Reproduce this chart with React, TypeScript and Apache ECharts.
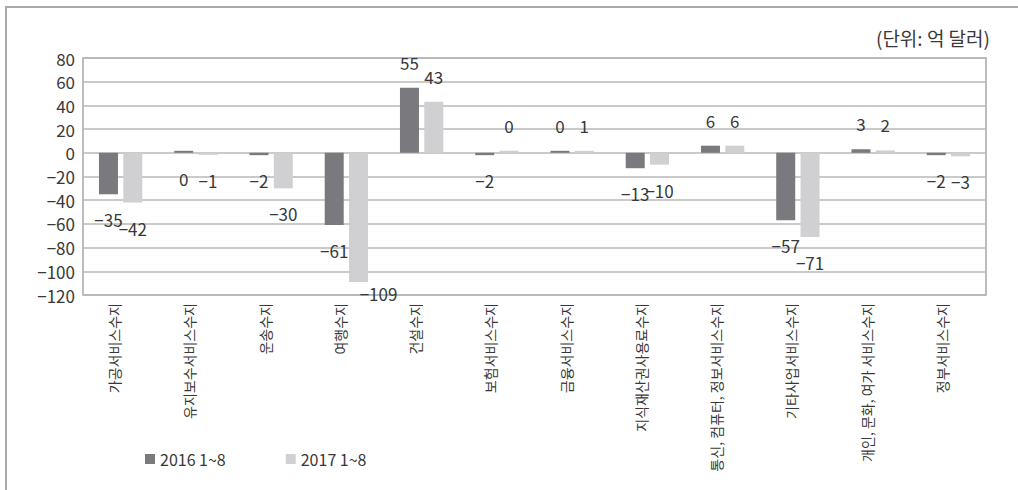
import React, { useEffect, useRef } from "react";
import * as echarts from "echarts";

// Service balance by category, Jan–Aug (unit: 100 million USD)
const categories = [
  "가공서비스수지",
  "유지보수서비스수지",
  "운송수지",
  "여행수지",
  "건설수지",
  "보험서비스수지",
  "금융서비스수지",
  "지식재산권사용료수지",
  "통신, 컴퓨터, 정보서비스수지",
  "기타사업서비스수지",
  "개인, 문화, 여가 서비스수지",
  "정부서비스수지",
];

const seriesNames = ["2016 1~8", "2017 1~8"];
const values2016 = [-35, 0, -2, -61, 55, -2, 0, -13, 6, -57, 3, -2];
const values2017 = [-42, -1, -30, -109, 43, 0, 1, -10, 6, -71, 2, -3];

// a rounded-to-zero value that was slightly negative: its label sits below the axis
const belowZero2016 = ["유지보수서비스수지"];

const yTicks = [80, 60, 40, 20, 0, -20, -40, -60, -80, -100, -120];
const unitText = "(단위: 억 달러)";

const FONT = "'Noto Sans CJK KR', 'Noto Sans', sans-serif";
const TEXT = "#383838";
const COLORS = ["#7a7a7e", "#d0d0d2"];

const minus = (v: number) => String(v).replace("-", "−");

export default function App() {
  const ref = useRef<HTMLDivElement>(null);

  useEffect(() => {
    if (!ref.current) return;
    const chart = echarts.init(ref.current, null, { renderer: "svg" });

    const minVal = yTicks[yTicks.length - 1];

    const makeSeries = (name: string, data: number[], color: string, below: string[]) => ({
      name,
      type: "bar",
      barWidth: 19,
      barGap: "28%",
      barMinHeight: 2,
      itemStyle: { color },
      label: {
        show: true,
        position: "outside",
        distance: 17,
        fontFamily: FONT,
        fontSize: 17,
        color: TEXT,
        formatter: (p: any) => minus(p.value),
      },
      data: data.map((v, i) => {
        if (v === 0 && below.includes(categories[i])) {
          return { value: v, label: { position: "bottom" } };
        }
        // bars reaching near the axis floor keep their label close beside the bar end
        if (v - minVal < 15) {
          return { value: v, label: { distance: 3, offset: [20, 0] } };
        }
        return v;
      }),
    });

    chart.setOption({
      animation: false,
      textStyle: { fontFamily: FONT },
      graphic: [
        {
          type: "rect",
          silent: true,
          shape: { x: 6, y: 7, width: 1100, height: 600 },
          style: { fill: "none", stroke: "#a9a9a9", lineWidth: 2 },
        },
        {
          type: "text",
          right: 28,
          top: 28,
          style: {
            text: unitText,
            fontFamily: FONT,
            fontSize: 19,
            fill: TEXT,
          },
        },
      ],
      legend: {
        left: 140,
        top: 446,
        itemWidth: 10,
        itemHeight: 10,
        itemGap: 60,
        icon: "rect",
        textStyle: { fontFamily: FONT, fontSize: 16, color: TEXT },
        data: seriesNames,
      },
      grid: {
        left: 83,
        top: 58,
        width: 903,
        height: 237,
        show: true,
        borderColor: "#a8a8a8",
        borderWidth: 1.5,
        containLabel: false,
      },
      xAxis: {
        type: "category",
        data: categories,
        position: "bottom",
        axisLine: { show: false },
        axisTick: { show: false },
        axisLabel: {
          rotate: 90,
          interval: 0,
          margin: 8,
          fontFamily: FONT,
          fontSize: 14,
          color: TEXT,
          verticalAlign: "bottom",
          lineHeight: 13,
        },
      },
      yAxis: {
        type: "value",
        min: minVal,
        max: yTicks[0],
        interval: 20,
        axisLine: { show: false },
        axisTick: { show: false },
        splitLine: { lineStyle: { color: "#b9b9b9", width: 1.5 } },
        axisLabel: {
          margin: 8,
          fontFamily: FONT,
          fontSize: 17,
          color: TEXT,
          formatter: (v: number) => minus(v),
        },
      },
      series: [
        makeSeries(seriesNames[0], values2016, COLORS[0], belowZero2016),
        makeSeries(seriesNames[1], values2017, COLORS[1], []),
      ],
    });

    return () => chart.dispose();
  }, []);

  return (
    <div
      ref={ref}
      style={{ position: "absolute", left: 0, top: 0, width: 1018, height: 490, background: "#fff" }}
    />
  );
}
